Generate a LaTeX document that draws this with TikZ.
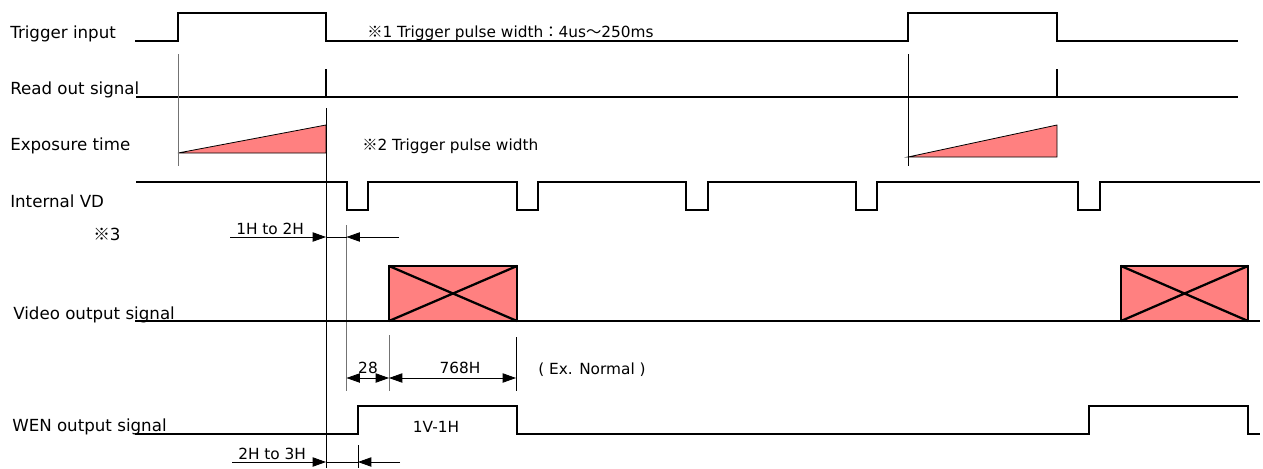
\documentclass[tikz,border=0pt]{standalone}
\usepackage{fontspec}
\setmainfont{DejaVu Sans}
\newfontfamily\cjk{Noto Sans CJK JP}
\usetikzlibrary{arrows.meta}
\definecolor{pinkfill}{HTML}{FF8080}
\newcommand\refmk{{\cjk ※}}
\tikzset{
  sig/.style={line width=1.7pt, line join=miter},
  thinl/.style={line width=0.6pt},
  grayl/.style={line width=0.6pt, draw=black!55},
  lbl/.style={anchor=base west, inner sep=0pt, font=\fontsize{12.5}{14}\selectfont},
  note/.style={anchor=base west, inner sep=0pt, font=\fontsize{11.5}{13}\selectfont},
  num/.style={anchor=base, inner sep=0pt, font=\fontsize{11.5}{13}\selectfont},
  tip/.tip={Triangle[length=10pt,width=7pt]},
  dimr/.style={line width=0.6pt, -tip},
  dimb/.style={line width=0.6pt, tip-tip},
  xbox/.style={fill=pinkfill, draw=black, line width=1.7pt},
  ramp/.style={fill=pinkfill, draw=black, line width=0.6pt},
}
\begin{document}
\begin{tikzpicture}[x=0.75pt,y=-0.75pt]
\useasboundingbox (0,0) rectangle (1263,468);

% labels
\node[lbl] (ltrig) at (10,38) {Trigger input};
\node[lbl] (lread) at (10,94) {Read out signal};
\node[lbl] (lexp)  at (10,150) {Exposure time};
\node[lbl] (lvd)   at (10,207) {Internal VD};
\node[lbl] (lm3)   at (93,240) {\refmk3};
\node[lbl] (lvid)  at (13,319) {Video output signal};
\node[lbl] (lwen)  at (12,431) {WEN output signal};
\node[note] (n1) at (367,37) {\refmk1 Trigger pulse width{\cjk ：}4us{\cjk ～}250ms};
\node[note] (n2) at (362,150) {\refmk2 Trigger pulse width};

% trigger input
\draw[sig] (135,41) -- (178,41) -- (178,13) -- (326,13) -- (326,41) -- (908,41) -- (908,13) -- (1057,13) -- (1057,41) -- (1238,41);

% read out signal
\draw[sig] (136,97) -- (1238,97);
\draw[sig] (326,69) -- (326,97);
\draw[sig] (1057,69) -- (1057,97);

% exposure ramps
\draw[ramp] (178,153) -- (326,125) -- (326,153) -- cycle;
\draw[ramp] (908,157) -- (1057,125) -- (1057,157) -- cycle;

% thin reference lines
\draw[grayl] (178,54) -- (178,166);
\draw[thinl] (908,54) -- (908,166);
\draw[thinl] (326,108) -- (326,468);

% internal VD
\draw[sig] (136,182) -- (347,182) -- (347,210) -- (368,210) -- (368,182)
  -- (517,182) -- (517,210) -- (538,210) -- (538,182)
  -- (686,182) -- (686,210) -- (708,210) -- (708,182)
  -- (856,182) -- (856,210) -- (877,210) -- (877,182)
  -- (1078,182) -- (1078,210) -- (1100,210) -- (1100,182) -- (1260,182);

% 1H to 2H
\coordinate (a1s) at (230,237);
\coordinate (a1e) at (326,237);
\coordinate (a2e) at (346.5,237);
\coordinate (a2s) at (399,237);
\draw[grayl] (346.5,225) -- (346.5,391);
\draw[dimr] (a1s) -- (a1e);
\draw[thinl] (a1e) -- (a2e);
\draw[dimr] (a2s) -- (a2e);
\node[note] (t12) at (236,234) {1H to 2H};

% video output
\draw[sig] (135,321) -- (1260,321);
\draw[xbox] (389,266) rectangle (517,321);
\draw[sig] (389,266) -- (517,321) (389,321) -- (517,266);
\draw[xbox] (1121,266) rectangle (1248,321);
\draw[sig] (1121,266) -- (1248,321) (1121,321) -- (1248,266);

% dimensions 28 / 768H
\draw[grayl] (389,335) -- (389,391);
\draw[thinl] (516,337) -- (516,391);
\coordinate (d0) at (346.5,378);
\coordinate (d1) at (389,378);
\coordinate (d2) at (516,378);
\draw[dimb] (d0) -- (d1);
\draw[dimb] (d1) -- (d2);
\node[num] (t28) at (368,373) {28};
\node[num] (t768) at (460,373) {768H};
\node[note] (tex) at (538,374) {( Ex. Normal )};

% WEN
\draw[sig] (135,434) -- (358,434) -- (358,406) -- (517,406) -- (517,434)
  -- (1089,434) -- (1089,406) -- (1248,406) -- (1248,434) -- (1260,434);
\node[num] (t1v) at (436,432) {1V-1H};

% 2H to 3H
\coordinate (b1s) at (232,462);
\coordinate (b1e) at (326,462);
\coordinate (b2e) at (358,462);
\coordinate (b2s) at (400,462);
\draw[thinl] (358,445) -- (358,468);
\draw[dimr] (b1s) -- (b1e);
\draw[thinl] (b1e) -- (b2e);
\draw[dimr] (b2s) -- (b2e);
\node[note] (t23) at (238,459) {2H to 3H};
\end{tikzpicture}
\end{document}
